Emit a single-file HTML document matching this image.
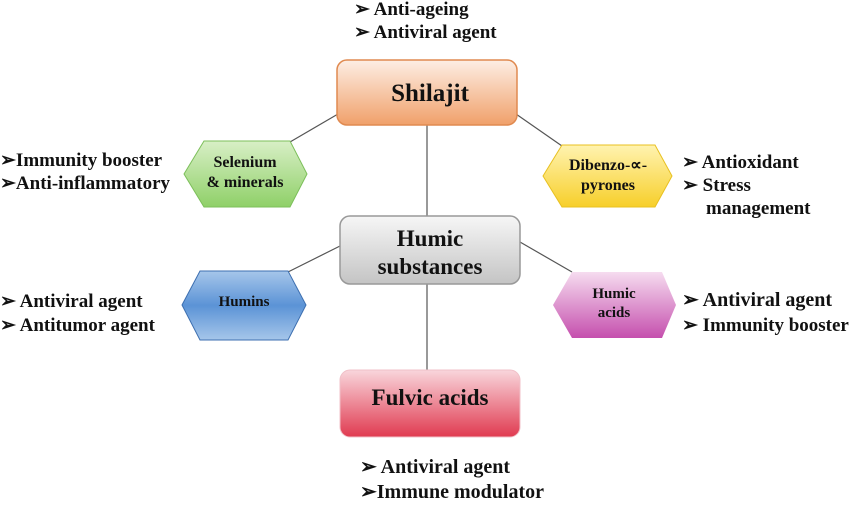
<!DOCTYPE html>
<html><head><style>
body{margin:0;background:#fff;}
svg text{font-family:"Liberation Serif",serif;font-weight:bold;fill:#111;}
</style></head><body>
<svg width="850" height="500" viewBox="0 0 850 500" xmlns="http://www.w3.org/2000/svg">
<defs>
<linearGradient id="or" x1="0" y1="0" x2="0" y2="1"><stop offset="0" stop-color="#fdeee4"/><stop offset="1" stop-color="#f0a06a"/></linearGradient>
<linearGradient id="gr" x1="0" y1="0" x2="0" y2="1"><stop offset="0" stop-color="#f6f6f6"/><stop offset="1" stop-color="#c4c4c4"/></linearGradient>
<linearGradient id="rd" x1="0" y1="0" x2="0" y2="1"><stop offset="0" stop-color="#f9d6dc"/><stop offset="1" stop-color="#e03a50"/></linearGradient>
<linearGradient id="gn" x1="0" y1="0" x2="0" y2="1"><stop offset="0" stop-color="#d8efc6"/><stop offset="1" stop-color="#8fd068"/></linearGradient>
<linearGradient id="yl" x1="0" y1="0" x2="0" y2="1"><stop offset="0" stop-color="#fff3b0"/><stop offset="1" stop-color="#f7cf2a"/></linearGradient>
<linearGradient id="bl" x1="0" y1="0" x2="0" y2="1"><stop offset="0" stop-color="#a6c6ea"/><stop offset="0.5" stop-color="#5b93d6"/><stop offset="1" stop-color="#a6c6ea"/></linearGradient>
<linearGradient id="pk" x1="0" y1="0" x2="0" y2="1"><stop offset="0" stop-color="#f6dcf0"/><stop offset="1" stop-color="#c54fae"/></linearGradient>
</defs>
<g stroke="#555" stroke-width="1.2">
<line x1="427" y1="125" x2="427" y2="217"/>
<line x1="427" y1="283" x2="427" y2="371"/>
<line x1="338" y1="114" x2="290" y2="142"/>
<line x1="516" y1="114" x2="562" y2="146"/>
<line x1="340" y1="246" x2="288" y2="272"/>
<line x1="520" y1="242" x2="572" y2="272"/>
</g>
<rect x="337" y="60" width="180" height="65" rx="10" fill="url(#or)" stroke="#e08a50" stroke-width="1.5"/>
<rect x="340" y="216" width="180" height="68" rx="10" fill="url(#gr)" stroke="#999" stroke-width="1.5"/>
<rect x="340" y="370" width="180" height="67" rx="10" fill="url(#rd)" stroke="#f0c0c8" stroke-width="1"/>
<polygon points="184,174 204,141 290,141 307,174 290,207 204,207" fill="url(#gn)" stroke="#7cbf5a"/>
<polygon points="543,176 562,145 655,145 672,176 655,207 562,207" fill="url(#yl)" stroke="#e8c020"/>
<polygon points="182,305 200,271 288,271 306,305 288,340 200,340" fill="url(#bl)" stroke="#3d6fb0"/>
<polygon points="553,305 572,272 662,272 676,305 662,338 572,338" fill="url(#pk)"/>
<text x="430" y="101" font-size="25" text-anchor="middle">Shilajit</text>
<text x="430" y="246" font-size="23" text-anchor="middle">Humic</text>
<text x="430" y="274" font-size="23" text-anchor="middle">substances</text>
<text x="430" y="405" font-size="23" text-anchor="middle">Fulvic acids</text>
<text x="245" y="167" font-size="16" text-anchor="middle">Selenium</text>
<text x="245" y="187" font-size="16" text-anchor="middle">&amp; minerals</text>
<text x="608" y="170" font-size="16" text-anchor="middle">Dibenzo-∝-</text>
<text x="608" y="190" font-size="16" text-anchor="middle">pyrones</text>
<text x="244" y="306" font-size="15" text-anchor="middle">Humins</text>
<text x="614" y="298" font-size="15" text-anchor="middle">Humic</text>
<text x="614" y="317" font-size="15" text-anchor="middle">acids</text>
<g font-size="19">
<text x="354" y="15">➢ Anti-ageing</text>
<text x="354" y="38">➢ Antiviral agent</text>
<text x="0" y="166">➢Immunity booster</text>
<text x="0" y="189">➢Anti-inflammatory</text>
<text x="682" y="168">➢ Antioxidant</text>
<text x="682" y="191">➢  Stress</text>
<text x="706" y="214">management</text>
<text x="0" y="307">➢ Antiviral agent</text>
<text x="0" y="331">➢ Antitumor agent</text>
<text x="682" y="306" font-size="20">➢ Antiviral agent</text>
<text x="682" y="331">➢ Immunity booster</text>
<text x="360" y="473" font-size="20">➢ Antiviral agent</text>
<text x="360" y="498" font-size="20">➢Immune modulator</text>
</g>
</svg>
</body></html>
